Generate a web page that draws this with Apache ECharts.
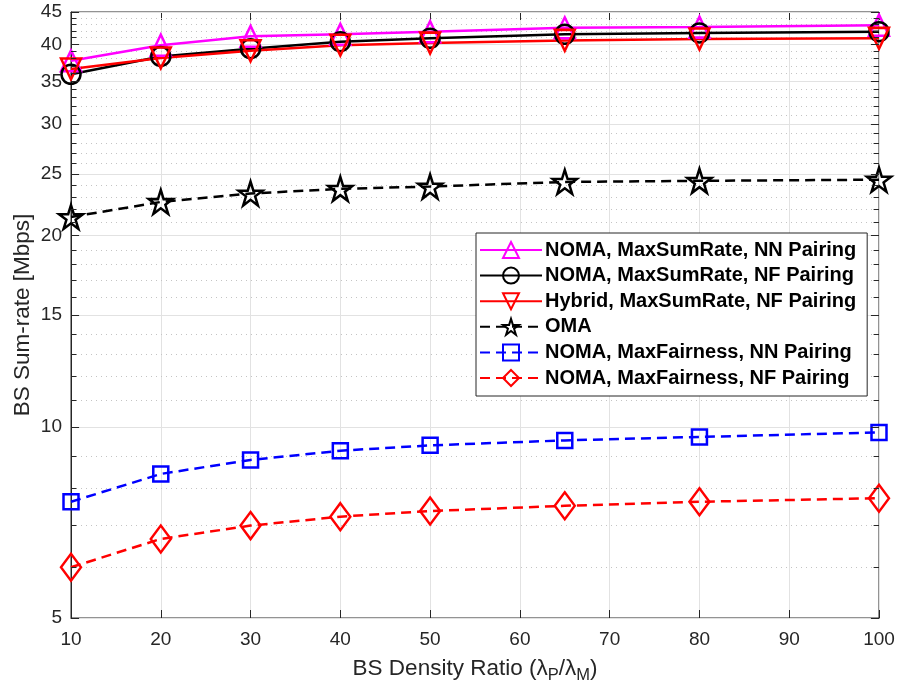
<!DOCTYPE html>
<html>
<head>
<meta charset="utf-8">
<script src="https://cdn.jsdelivr.net/npm/echarts@6/dist/echarts.min.js"></script>
<style>html,body{margin:0;padding:0;background:#fff;}#c{width:900px;height:691px;}</style>
</head>
<body>
<div id="c"></div>
<script>
// ---- data ----
const xValues = [10, 20, 30, 40, 50, 65, 80, 100];
const nomaMaxSumNN = [37.7, 39.9, 41.2, 41.5, 41.9, 42.5, 42.6, 42.9];
const nomaMaxSumNF = [35.9, 38.3, 39.4, 40.4, 40.9, 41.5, 41.7, 41.9];
const hybridMaxSumNF = [36.6, 38.1, 39.1, 39.9, 40.2, 40.6, 40.8, 40.9];
const omaRate = [21.4, 22.6, 23.3, 23.7, 23.9, 24.3, 24.4, 24.5];
const nomaFairNN = [7.62, 8.43, 8.87, 9.17, 9.35, 9.52, 9.64, 9.80];
const nomaFairNF = [6.01, 6.66, 6.99, 7.22, 7.37, 7.51, 7.62, 7.72];
const seriesNames = [
  'NOMA, MaxSumRate, NN Pairing',
  'NOMA, MaxSumRate, NF Pairing',
  'Hybrid, MaxSumRate, NF Pairing',
  'OMA',
  'NOMA, MaxFairness, NN Pairing',
  'NOMA, MaxFairness, NF Pairing'
];
const yMajorTicks = [5, 10, 15, 20, 25, 30, 35, 40, 45];
const yMinorTicks = [6, 7, 8, 9, 11, 12, 13, 14, 16, 17, 18, 19, 21, 22, 23, 24, 26, 27, 28, 29, 31, 32, 33, 34, 36, 37, 38, 39, 41, 42, 43, 44];

// ---- styling ----
const AX = '#262626';
const FONT = 'Liberation Sans, Arial, Helvetica, sans-serif';
const STAR = 'path://M50,0L61.2,34.6L97.6,34.5L68.2,55.9L79.4,90.5L50,69.1L20.6,90.5L31.8,55.9L2.4,34.5L38.8,34.6Z';
const TRI_DOWN = 'path://M0,0L100,0L50,100Z';
const TRI_UP = 'path://M50,0L100,100L0,100Z';

function pairs(vals) { return xValues.map((x, i) => [x, vals[i]]); }

function mkSeries(name, vals, color, symbol, size, dashed) {
  return {
    name: name, type: 'line', data: pairs(vals),
    symbol: symbol, symbolSize: size, symbolKeepAspect: false,
    showAllSymbol: true,
    lineStyle: { color: color, width: 2.5, type: dashed ? [10, 6] : 'solid' },
    itemStyle: { color: 'rgba(255,255,255,0)', borderColor: color, borderWidth: 2.5 },
    emphasis: { disabled: true },
    animation: false, z: 3
  };
}

const gridLines = [];
yMajorTicks.forEach(v => {
  gridLines.push({ yAxis: v, lineStyle: { color: '#e2e2e2', width: 1, type: 'solid' },
    label: { show: true, position: 'start', distance: 9, formatter: String(v), color: AX, fontSize: 19, fontFamily: FONT } });
});
yMinorTicks.forEach(v => {
  gridLines.push({ yAxis: v, lineStyle: { color: '#c4c4c4', width: 1, type: [1, 4] }, label: { show: false } });
});
const tickLines = [];
yMajorTicks.concat(yMinorTicks).forEach(v => {
  const isMajor = yMajorTicks.indexOf(v) >= 0;
  const len = isMajor ? 0.9 : 0.6;
  tickLines.push([{ coord: [10, v] }, { coord: [10 + len, v] }]);
  tickLines.push([{ coord: [100, v] }, { coord: [100 - len, v] }]);
});

const series = [
  mkSeries(seriesNames[0], nomaMaxSumNN, '#ff00ff', TRI_UP, [20, 21], false),
  mkSeries(seriesNames[1], nomaMaxSumNF, '#000000', 'circle', 19, false),
  mkSeries(seriesNames[2], hybridMaxSumNF, '#ff0000', TRI_DOWN, [20, 21], false),
  mkSeries(seriesNames[3], omaRate, '#000000', STAR, 24, true),
  mkSeries(seriesNames[4], nomaFairNN, '#0000ff', 'rect', 15, true),
  mkSeries(seriesNames[5], nomaFairNF, '#ff0000', 'diamond', [20, 27], true),
  {
    name: '_grid', type: 'line', data: [], silent: true, z: 1, animation: false,
    markLine: { silent: true, animation: false, symbol: ['none', 'none'], z: 1, data: gridLines }
  },
  {
    name: '_ticks', type: 'line', data: [], silent: true, z: 4, animation: false,
    markLine: { silent: true, animation: false, symbol: ['none', 'none'], z: 4,
      lineStyle: { color: AX, width: 1, type: 'solid' }, label: { show: false }, data: tickLines }
  }
];

const chart = echarts.init(document.getElementById('c'), null, { renderer: 'canvas' });
chart.setOption({
  backgroundColor: '#ffffff',
  animation: false,
  textStyle: { fontFamily: FONT },
  grid: { left: 71, right: 21, top: 12, bottom: 73, show: true, borderColor: AX, borderWidth: 1, backgroundColor: 'transparent' },
  legend: {
    data: seriesNames, orient: 'vertical', left: 476, top: 233,
    itemWidth: 62, itemHeight: 20, itemGap: 5.6,
    padding: [7, 11, 8, 3],
    backgroundColor: '#ffffff', borderColor: AX, borderWidth: 1, borderRadius: 0,
    textStyle: { fontSize: 20, lineHeight: 20, fontWeight: 'bold', color: '#000', fontFamily: FONT, padding: [0, 0, 0, -2] },
    selectedMode: false
  },
  xAxis: [{
    type: 'value', min: 10, max: 100, interval: 10,
    axisLine: { show: true, lineStyle: { color: AX, width: 1 } },
    axisTick: { show: true, inside: true, length: 8, lineStyle: { color: AX } },
    axisLabel: { color: AX, fontSize: 19, fontFamily: FONT, margin: 12 },
    splitLine: { show: true, lineStyle: { color: '#e2e2e2', width: 1 } },
    name: 'BS Density Ratio (λ{s|P}/λ{s|M})', nameLocation: 'middle', nameGap: 31,
    nameTextStyle: { color: AX, fontSize: 22.5, fontFamily: FONT, lineHeight: 30,
      rich: { s: { fontSize: 16.5, fontFamily: FONT, color: AX, verticalAlign: 'bottom', lineHeight: 30 } } }
  }, {
    type: 'value', min: 10, max: 100, interval: 10, position: 'top',
    axisLine: { show: true, lineStyle: { color: AX, width: 1 } },
    axisTick: { show: true, inside: true, length: 8, lineStyle: { color: AX } },
    axisLabel: { show: false }, splitLine: { show: false }
  }],
  yAxis: {
    type: 'log', logBase: 10, min: 5, max: 45,
    axisLine: { show: true, lineStyle: { color: AX, width: 1 } },
    axisTick: { show: false }, axisLabel: { show: false },
    splitLine: { show: false }, minorTick: { show: false }, minorSplitLine: { show: false },
    name: 'BS Sum-rate [Mbps]', nameLocation: 'middle', nameGap: 37,
    nameTextStyle: { color: AX, fontSize: 22.5, fontFamily: FONT }
  },
  series: series
});
</script>
</body>
</html>
